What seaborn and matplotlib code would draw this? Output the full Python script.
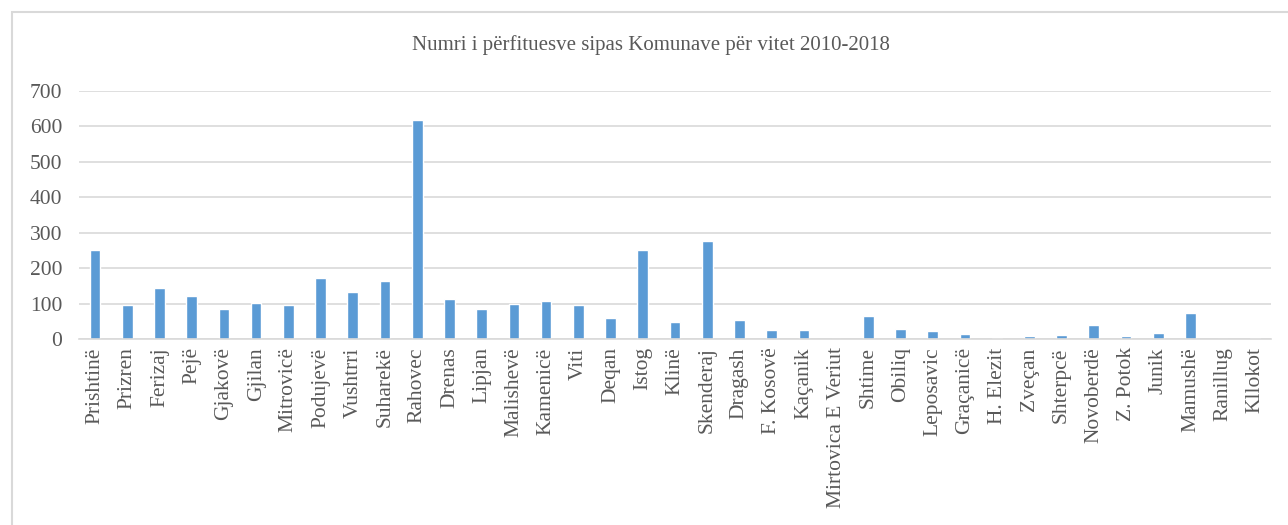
import pandas as pd
import matplotlib.pyplot as plt
import seaborn as sns
from matplotlib.patches import Rectangle

# ---- Data ----
komunat = [
    "Prishtinë", "Prizren", "Ferizaj", "Pejë", "Gjakovë", "Gjilan", "Mitrovicë",
    "Podujevë", "Vushtrri", "Suharekë", "Rahovec", "Drenas", "Lipjan", "Malishevë",
    "Kamenicë", "Viti", "Deqan", "Istog", "Klinë", "Skenderaj", "Dragash",
    "F. Kosovë", "Kaçanik", "Mirtovica E Veriut", "Shtime", "Obiliq", "Leposavic",
    "Graçanicë", "H. Elezit", "Zveçan", "Shterpcë", "Novoberdë", "Z. Potok",
    "Junik", "Mamushë", "Ranillug", "Kllokot",
]
perfitues = [
    251, 96, 143, 122, 86, 101, 96,
    171, 133, 164, 618, 112, 86, 100,
    106, 96, 58, 250, 48, 277, 53,
    26, 26, 0, 64, 29, 22,
    14, 3, 8, 12, 40, 9,
    18, 74, 1, 3,
]
y_ticks = [0, 100, 200, 300, 400, 500, 600, 700]

df = pd.DataFrame({"komuna": komunat, "perfitues": perfitues})

# ---- Plot Style ----
sns.set_theme(style="white")
plt.rcParams['font.family'] = ['Liberation Serif', 'DejaVu Serif']
text_color = "#595959"
grid_color = "#d9d9d9"

fig = plt.figure(figsize=(12.88, 5.25), dpi=100)
ax = fig.add_axes([0.0613, 0.3543, 0.9255, 0.4724])

# chart border (Excel style frame)
fig.patches.append(Rectangle((12 / 1288, -0.1), 1.2, (513 / 525) + 0.1,
                             transform=fig.transFigure, fill=False,
                             edgecolor=grid_color, linewidth=1.5))

sns.barplot(data=df, x="komuna", y="perfitues", color="#5b9bd5",
            width=0.33, saturation=1, ax=ax)

ax.set_ylim(0, 700)
ax.set_yticks(y_ticks)
ax.set_xlim(-0.5, len(komunat) - 0.5)
ax.yaxis.grid(True, color=grid_color, linewidth=1.2)
ax.set_axisbelow(True)
for s in ["top", "right", "left"]:
    ax.spines[s].set_visible(False)
ax.spines["bottom"].set_color(grid_color)
ax.spines["bottom"].set_linewidth(1.2)

ax.set_xlabel("")
ax.set_ylabel("")
ax.tick_params(axis='y', length=0, pad=12, labelsize=15.5, labelcolor=text_color)
ax.tick_params(axis='x', length=0, pad=6, labelsize=15.5, labelcolor=text_color,
               labelrotation=90)

fig.text(0.505, 0.915, "Numri i përfituesve sipas Komunave për vitet 2010-2018",
         ha="center", va="center", fontsize=15, color=text_color)

plt.savefig("out.png", dpi=100)
